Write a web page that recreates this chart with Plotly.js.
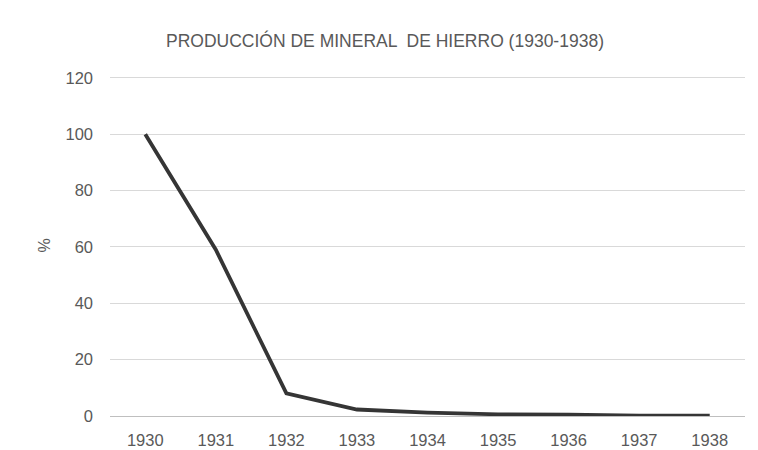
<!DOCTYPE html>
<html>
<head>
<meta charset="utf-8">
<script src="https://cdn.plot.ly/plotly-3.0.1.min.js"></script>
<style>html,body{margin:0;padding:0;background:#fff;}#chart{width:758px;height:450px;}</style>
</head>
<body>
<div id="chart"></div>
<script>
const years = ['1930','1931','1932','1933','1934','1935','1936','1937','1938'];
const production = [100, 59, 8, 2.3, 1.2, 0.6, 0.5, 0.1, 0.1];
const titleText = 'PRODUCCIÓN DE MINERAL  DE HIERRO (1930-1938)';
const yTicks = [0, 20, 40, 60, 80, 100, 120];

const trace = {
  x: years,
  y: production,
  type: 'scatter',
  mode: 'lines',
  line: {color: '#353535', width: 3.8},
  hoverinfo: 'skip'
};

const layout = {
  width: 758,
  height: 450,
  paper_bgcolor: '#ffffff',
  plot_bgcolor: '#ffffff',
  margin: {l: 110, r: 13, t: 74.7, b: 33.5},
  showlegend: false,
  font: {family: 'Liberation Sans, Arial, sans-serif', color: '#595959', size: 12},
  title: {
    text: titleText,
    x: 385 / 758, xanchor: 'center', xref: 'container',
    y: 1 - 41 / 450, yanchor: 'middle', yref: 'container',
    font: {size: 17.5, color: '#595959', family: 'Liberation Sans, Arial, sans-serif'}
  },
  xaxis: {
    type: 'category',
    range: [-0.5, 8.5],
    showgrid: false,
    zeroline: false,
    showline: false,
    ticks: '',
    ticklabelstandoff: 12,
    tickfont: {size: 16.5, color: '#595959'},
    fixedrange: true
  },
  yaxis: {
    range: [0, 121],
    tickvals: yTicks,
    ticktext: yTicks.map(String),
    showgrid: true,
    gridcolor: '#d9d9d9',
    gridwidth: 1,
    zeroline: true,
    zerolinecolor: '#bfbfbf',
    zerolinewidth: 1,
    showline: false,
    ticks: '',
    ticklabelstandoff: 16,
    tickfont: {size: 16.5, color: '#595959'},
    title: {text: '%', font: {size: 16, color: '#595959'}, standoff: 10},
    fixedrange: true
  }
};

Plotly.newPlot('chart', [trace], layout, {displayModeBar: false, staticPlot: true});
</script>
</body>
</html>
